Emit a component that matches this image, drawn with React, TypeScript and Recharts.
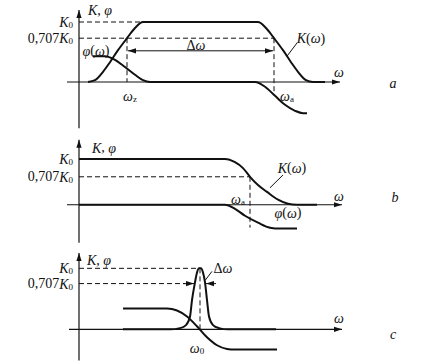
import { LineChart, Line, XAxis, YAxis, ReferenceLine, ReferenceDot } from "recharts";

const FONT = "Liberation Serif, DejaVu Serif, serif";
const INK = "#111";

// panel a — band-pass: gain K(w) and phase phi(w)
const W_K_A = [9, 16, 24, 31, 39, 48, 56, 64, 179, 187, 195, 204, 212, 219, 227, 234, 246];
const K_A = [0, 0.03, 0.17, 0.33, 0.53, 0.73, 0.9, 1, 1, 0.9, 0.73, 0.53, 0.33, 0.17, 0.03, 0, 0];
const W_PHI_A = [14, 26, 36, 46, 56, 64, 71, 176, 186, 196, 206, 216, 224, 228];
const PHI_A = [0.43, 0.43, 0.37, 0.25, 0.12, 0.03, 0, 0, -0.08, -0.23, -0.38, -0.48, -0.52, -0.52];
const HALF_A = 0.73;
const W_LOW_A = 48;
const W_HIGH_A = 195;

// panel b — low-pass
const W_K_B = [0, 146, 156, 164, 171, 179, 188, 199, 209, 218, 238];
const K_B = [1, 1, 0.93, 0.8, 0.61, 0.43, 0.28, 0.11, 0.02, 0, 0];
const W_PHI_B = [0, 146, 156, 166, 179, 191, 201, 218];
const PHI_B = [0, 0, -0.09, -0.24, -0.39, -0.5, -0.52, -0.52];
const HALF_B = 0.61;
const W_HIGH_B = 171;

// panel c — resonant
const W_K_C = [44, 91, 101, 107, 111, 113, 116, 118, 120, 122, 124, 126, 128, 130, 134, 140, 149, 197];
const K_C = [0, 0, 0.02, 0.07, 0.21, 0.48, 0.77, 0.93, 1, 1, 0.93, 0.77, 0.48, 0.21, 0.07, 0.02, 0, 0];
const W_PHI_C = [44, 88, 98, 108, 118, 128, 138, 148, 156, 198];
const PHI_C = [0.34, 0.34, 0.31, 0.21, 0.05, -0.13, -0.26, -0.32, -0.33, -0.33];
const HALF_C = 0.75;
const W_RES_C = 121;

const pts = (ws: number[], vs: number[]) => ws.map((w, i) => ({ w, v: vs[i] }));

const arrowShape = (start: boolean, end: boolean, dash?: string, sw = 1.2) => (p: any) => {
  const { x1, y1, x2, y2 } = p;
  const head = (x: number, y: number, ang: number) => {
    const L = 8, H = 2.6;
    const c = Math.cos(ang), s = Math.sin(ang);
    return (
      <polygon
        points={`${x},${y} ${x - L * c + H * s},${y - L * s - H * c} ${x - L * c - H * s},${y - L * s + H * c}`}
        fill={INK}
      />
    );
  };
  const a = Math.atan2(y2 - y1, x2 - x1);
  return (
    <g>
      <line x1={x1} y1={y1} x2={x2} y2={y2} stroke={INK} strokeWidth={sw} strokeDasharray={dash} />
      {end && head(x2, y2, a)}
      {start && head(x1, y1, a + Math.PI)}
    </g>
  );
};

const seg = (a: [number, number], b: [number, number], shape: any) => (
  <ReferenceLine
    segment={[{ x: a[0], y: a[1] }, { x: b[0], y: b[1] }]}
    ifOverflow="visible"
    shape={shape}
  />
);

const dashed = (a: [number, number], b: [number, number]) => seg(a, b, arrowShape(false, false, "5 3", 1));

const txt = (w: number, v: number, body: any, anchor: "start" | "middle" | "end" = "middle", size = 14) => (
  <ReferenceDot
    x={w}
    y={v}
    r={1}
    ifOverflow="visible"
    shape={(p: any) => (
      <text
        x={p.cx}
        y={p.cy}
        textAnchor={anchor}
        dominantBaseline="central"
        style={{ fontFamily: FONT, fontSize: size }}
        fill={INK}
      >
        {body}
      </text>
    )}
  />
);

const I = ({ children }: any) => <tspan fontStyle="italic">{children}</tspan>;
const Sub = ({ children }: any) => <tspan style={{ fontSize: 9 }} dy={3}>{children}</tspan>;

const K0 = <><I>K</I><Sub>0</Sub></>;
const K707 = <>0,707<I>K</I><Sub>0</Sub></>;
const KPHI = <><I>K</I>, <I>φ</I></>;
const KW = <><I>K</I>(<I>ω</I>)</>;
const PW = <><I>φ</I>(<I>ω</I>)</>;

function Panel({ top, height, domain, children }: any) {
  return (
    <div style={{ position: "absolute", left: 0, top }}>
      <LineChart width={428} height={height} margin={{ top: 0, right: 87, bottom: 0, left: 67 }}>
        <XAxis type="number" dataKey="w" domain={[-12, 262]} hide allowDataOverflow />
        <YAxis type="number" dataKey="v" domain={domain} hide allowDataOverflow />
        {children}
      </LineChart>
    </div>
  );
}

const curve = (data: any[]) => (
  <Line data={data} dataKey="v" type="monotone" stroke={INK} strokeWidth={2} dot={false} isAnimationActive={false} />
);

export default function App() {
  return (
    <div style={{ position: "absolute", left: 0, top: 0, width: 428, height: 364, overflow: "hidden", background: "#fff" }}>
      <Panel top={1} height={132} domain={[-0.85, 1.35]}>
        {seg([0, -0.77], [0, 1.2], arrowShape(false, true))}
        {seg([-12, 0], [261, 0], arrowShape(false, true))}
        {dashed([0, 1], [64, 1])}
        {dashed([0, HALF_A], [W_HIGH_A, HALF_A])}
        {dashed([W_LOW_A, HALF_A], [W_LOW_A, 0])}
        {dashed([W_HIGH_A, HALF_A], [W_HIGH_A, -0.22])}
        {seg([W_LOW_A + 1, 0.52], [W_HIGH_A - 1, 0.52], arrowShape(true, true, undefined, 1))}
        {seg([218, 0.65], [208, 0.43], arrowShape(false, false, undefined, 1))}
        {curve(pts(W_K_A, K_A))}
        {curve(pts(W_PHI_A, PHI_A))}
        {txt(9, 1.2, KPHI, "start")}
        {txt(-6, 1, K0, "end")}
        {txt(-6, HALF_A, K707, "end")}
        {txt(17, 0.52, PW)}
        {txt(117, 0.62, <><tspan>Δ</tspan><I>ω</I></>)}
        {txt(232, 0.73, KW)}
        {txt(260, 0.17, <I>ω</I>)}
        {txt(314, -0.02, <I>a</I>)}
        {txt(51, -0.23, <><I>ω</I><Sub>z</Sub></>)}
        {txt(208, -0.23, <><I>ω</I><Sub>a</Sub></>)}
      </Panel>

      <Panel top={136} height={110} domain={[-0.9, 1.5]}>
        {seg([0, -0.83], [0, 1.42], arrowShape(false, true))}
        {seg([-12, 0], [263, 0], arrowShape(false, true))}
        {dashed([0, HALF_B], [W_HIGH_B, HALF_B])}
        {dashed([W_HIGH_B, HALF_B], [W_HIGH_B, -0.5])}
        {seg([204, 0.65], [191, 0.37], arrowShape(false, false, undefined, 1))}
        {curve(pts(W_K_B, K_B))}
        {curve(pts(W_PHI_B, PHI_B))}
        {txt(13, 1.24, KPHI, "start")}
        {txt(-6, 1, K0, "end")}
        {txt(-6, HALF_B, K707, "end")}
        {txt(213, 0.81, KW)}
        {txt(260, 0.2, <I>ω</I>)}
        {txt(316, 0.17, <I>b</I>)}
        {txt(159, 0.13, <><I>ω</I><Sub>a</Sub></>)}
        {txt(209, -0.17, PW)}
      </Panel>

      <Panel top={250} height={116} domain={[-0.6, 1.3]}>
        {seg([0, -0.51], [0, 1.25], arrowShape(false, true))}
        {seg([-10, 0], [263, 0], arrowShape(false, true))}
        {dashed([0, 1], [W_RES_C, 1])}
        {dashed([0, HALF_C], [106, HALF_C])}
        {dashed([W_RES_C, 1], [W_RES_C, 0])}
        {seg([104, HALF_C], [115, HALF_C], arrowShape(false, true, undefined, 1))}
        {seg([137, HALF_C], [127, HALF_C], arrowShape(false, true, undefined, 1))}
        {seg([126, 0.8], [133, 0.95], arrowShape(false, false, undefined, 1))}
        {curve(pts(W_K_C, K_C))}
        {curve(pts(W_PHI_C, PHI_C))}
        {txt(8, 1.13, KPHI, "start")}
        {txt(-6, 1, K0, "end")}
        {txt(-6, HALF_C, K707, "end")}
        {txt(144, 1.0, <><tspan>Δ</tspan><I>ω</I></>)}
        {txt(260, 0.18, <I>ω</I>)}
        {txt(314, -0.07, <I>c</I>)}
        {txt(118, -0.3, <><I>ω</I><Sub>0</Sub></>)}
      </Panel>
    </div>
  );
}
